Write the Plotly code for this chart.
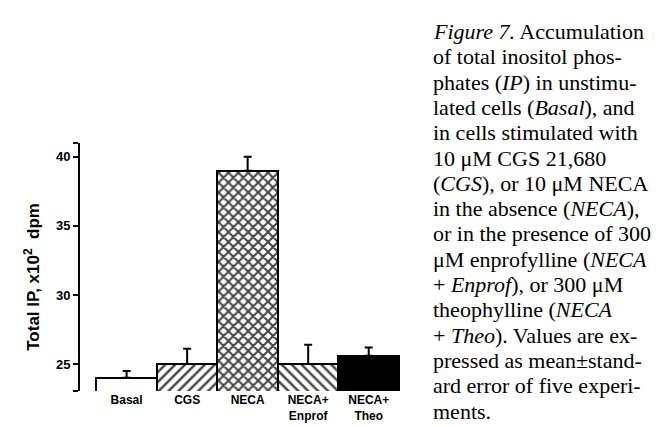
import plotly.graph_objects as go

# ---- data ----
categories = ["Basal", "CGS", "NECA", "NECA+<br>Enprof", "NECA+<br>Theo"]
means = [24.0, 25.0, 39.0, 25.0, 25.6]
sem = [0.5, 1.1, 1.0, 1.4, 0.6]
patterns = ["", "/", "x", "\\", ""]
pattern_solidity = [0.35, 0.35, 0.5, 0.35, 0.35]
fills = ["white", "white", "white", "white", "black"]

ytick_vals = [23.05, 25, 30, 35, 40, 41.0]
ytick_text = ["", "25", "30", "35", "40", ""]
y_title = "Total IP, x10<sup>2</sup>  dpm"

caption_lines = [
    "<i>Figure 7.</i> Accumulation",
    "of total inositol phos-",
    "phates (<i>IP</i>) in unstimu-",
    "lated cells (<i>Basal</i>), and",
    "in cells stimulated with",
    "10 μM CGS 21,680",
    "(<i>CGS</i>), or 10 μM NECA",
    "in the absence (<i>NECA</i>),",
    "or in the presence of 300",
    "μM enprofylline (<i>NECA</i>",
    "+ <i>Enprof</i>), or 300 μM",
    "theophylline (<i>NECA</i>",
    "+ <i>Theo</i>). Values are ex-",
    "pressed as mean±stand-",
    "ard error of five experi-",
    "ments.",
]

# ---- layout geometry (pixels) ----
W, H = 665, 427
ML, MT, MB = 72, 135, 38
x_range = [-0.77, 4.55]
plot_w = 322
MR = W - ML - plot_w
plot_h = H - MT - MB

fig = go.Figure()
fig.add_trace(go.Bar(
    x=list(range(len(categories))),
    y=means,
    width=1.0,
    marker=dict(
        color=fills,
        line=dict(color="black", width=2),
        pattern=dict(shape=patterns, size=7, solidity=pattern_solidity,
                     fgcolor="black", fgopacity=1, fillmode="overlay"),
    ),
    error_y=dict(type="data", symmetric=False, array=sem,
                 arrayminus=[0] * len(sem), color="black",
                 thickness=2, width=4),
    showlegend=False,
))

label_font = dict(family="Liberation Sans, Arial, sans-serif", size=12,
                  color="black", weight="bold")
ytick_font = dict(family="Liberation Sans, Arial, sans-serif", size=13,
                  color="black", weight="bold")

fig.update_layout(
    width=W, height=H,
    margin=dict(l=ML, r=MR, t=MT, b=MB, pad=0),
    plot_bgcolor="white", paper_bgcolor="white",
    bargap=0,
    xaxis=dict(
        range=x_range,
        tickmode="array",
        tickvals=list(range(len(categories))),
        ticktext=categories,
        showline=False, showgrid=False, zeroline=False,
        ticks="", tickfont=label_font,
    ),
    yaxis=dict(
        range=[23.05, 41.0],
        tickmode="array",
        tickvals=ytick_vals,
        ticktext=ytick_text,
        showline=True, linecolor="black", linewidth=2,
        ticks="outside", ticklen=5, tickwidth=2, tickcolor="black",
        showgrid=False, zeroline=False,
        tickfont=ytick_font,
    ),
)

# y-axis title
fig.add_annotation(
    text=y_title, textangle=-90,
    xref="paper", yref="paper",
    x=(24 - ML) / plot_w, y=(H - MB - 272) / plot_h,
    xanchor="center", yanchor="middle", showarrow=False,
    font=dict(family="Liberation Sans, Arial, sans-serif", size=17,
              color="black", weight="bold"),
)

# caption on the right
cap_x = 423
line0 = 21
step = 25.9
for i, line in enumerate(caption_lines):
    ypx = line0 + step * i
    fig.add_annotation(
        text=line,
        xref="paper", yref="paper",
        x=(cap_x - ML) / plot_w, y=(H - MB - ypx) / plot_h,
        xanchor="left", yanchor="middle", showarrow=False,
        font=dict(family="Liberation Serif, Times New Roman, serif",
                  size=22, color="black"),
        align="left",
    )

fig.write_html("out.html")
